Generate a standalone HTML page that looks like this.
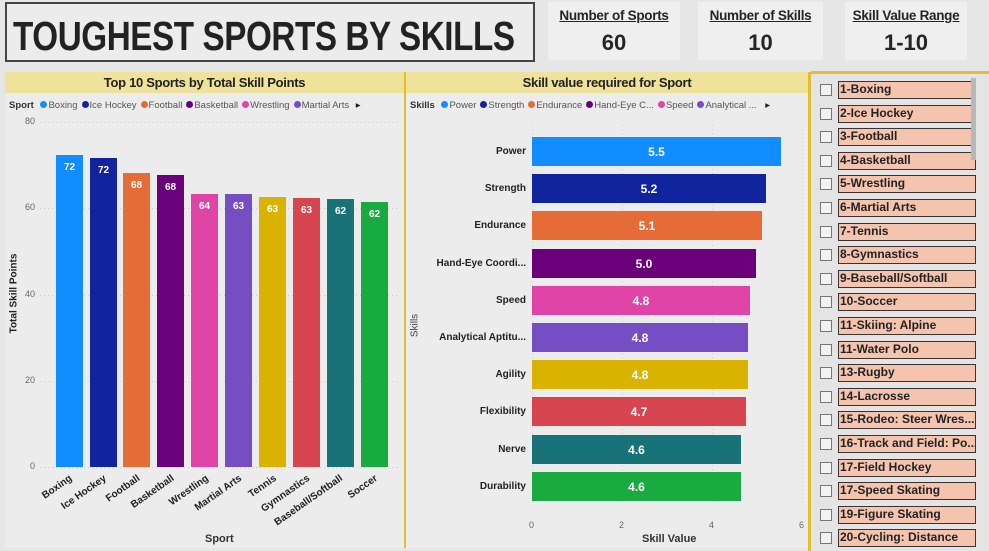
<!DOCTYPE html>
<html><head><meta charset="utf-8"><style>
*{margin:0;padding:0;box-sizing:border-box}
body{width:989px;height:551px;background:#e6e6e6;font-family:"Liberation Sans",sans-serif;position:relative;overflow:hidden}
.a{position:absolute}
.title{left:5px;top:2px;width:530px;height:60px;border:2px solid #444;background:#ececec;color:#222;overflow:hidden}
.title span{position:absolute;left:6px;top:9px;font-size:41px;font-weight:bold;white-space:nowrap;transform-origin:left top;transform:scaleX(0.81);letter-spacing:-0.5px}
.kpi{top:2px;height:58px;background:#efefef;text-align:center;color:#252525}
.kpi .h{font-size:13.5px;font-weight:bold;text-decoration:underline;margin-top:6px;letter-spacing:-0.3px}
.kpi .v{font-size:22px;font-weight:bold;margin-top:7px}
.hdr{top:72px;height:21px;background:#efe29a;font-size:13px;font-weight:bold;color:#222;text-align:center;line-height:21px;letter-spacing:-0.3px}
.panel{top:93px;height:455px;background:#ececec}
.leg{font-size:9.5px;color:#555;white-space:nowrap}
.leg b{color:#333}
.dot{display:inline-block;width:7px;height:7px;border-radius:50%;margin:0 1px 0 4px}
.bar{position:absolute}
.bl{position:absolute;color:#fff;font-weight:bold;font-size:10px;text-align:center}
.xl{position:absolute;font-size:10px;font-weight:bold;color:#222;transform-origin:right top;transform:rotate(-35deg);white-space:nowrap;text-align:right}
.tk{position:absolute;font-size:9px;color:#666}
.sl{position:absolute;left:838px;width:138px;height:18px;background:#f4c4ae;border:1.5px solid #3a3230;font-size:12px;font-weight:bold;color:#222;line-height:15px;padding-left:1px;white-space:nowrap;overflow:hidden}
.cb{position:absolute;left:820px;width:12px;height:12px;border:1px solid #777;background:#f2f2f2}
</style></head><body>
<div class="a title"><span>TOUGHEST SPORTS BY SKILLS</span></div>
<div class="a kpi" style="left:548px;width:132px"><div class="h">Number of Sports</div><div class="v">60</div></div>
<div class="a kpi" style="left:698px;width:125px"><div class="h">Number of Skills</div><div class="v">10</div></div>
<div class="a kpi" style="left:845px;width:122px"><div class="h">Skill Value Range</div><div class="v">1-10</div></div>

<div class="a hdr" style="left:5px;width:399px">Top 10 Sports by Total Skill Points</div>
<div class="a hdr" style="left:406px;width:402px">Skill value required for Sport</div>
<div class="a panel" style="left:5px;width:399px"></div>
<div class="a panel" style="left:406px;width:402px"></div>
<div class="a" style="left:404px;top:72px;width:2px;height:476px;background:#e0c030"></div>
<div class="a" style="left:808px;top:72px;width:3px;height:479px;background:#e0c030"></div>
<div class="a" style="left:811px;top:71px;width:178px;height:3px;background:#e0c030"></div>
<div class="a" style="left:811px;top:74px;width:176px;height:477px;background:#e4e4e4"></div>

<div class="a leg" style="left:9px;top:100px"><b>Sport</b> <span class="dot" style="background:#118dff"></span>Boxing<span class="dot" style="background:#12239e"></span>Ice Hockey<span class="dot" style="background:#e66c37"></span>Football<span class="dot" style="background:#6b007b"></span>Basketball<span class="dot" style="background:#e044a7"></span>Wrestling<span class="dot" style="background:#744ec2"></span>Martial Arts <span style="color:#222;margin-left:4px">▸</span></div>
<div class="a leg" style="left:410px;top:100px"><b>Skills</b> <span class="dot" style="background:#118dff"></span>Power<span class="dot" style="background:#12239e"></span>Strength<span class="dot" style="background:#e66c37"></span>Endurance<span class="dot" style="background:#6b007b"></span>Hand-Eye C...<span class="dot" style="background:#e044a7"></span>Speed<span class="dot" style="background:#744ec2"></span>Analytical ... <span style="color:#222;margin-left:6px">▸</span></div>

<svg class="a" style="left:0;top:0" width="404" height="551">
<g stroke="#ccc" stroke-dasharray="1,3">
<line x1="40" x2="400" y1="122.5" y2="122.5"/><line x1="40" x2="400" y1="208.5" y2="208.5"/><line x1="40" x2="400" y1="295.5" y2="295.5"/><line x1="40" x2="400" y1="381.5" y2="381.5"/><line x1="40" x2="400" y1="467.5" y2="467.5"/></g>
</svg>
<div class="tk" style="left:25px;top:116px">80</div>
<div class="tk" style="left:25px;top:202px">60</div>
<div class="tk" style="left:25px;top:289px">40</div>
<div class="tk" style="left:25px;top:375px">20</div>
<div class="tk" style="left:30px;top:461px">0</div>
<div class="a" style="left:-26px;top:288px;transform:rotate(-90deg);font-size:10px;font-weight:bold;color:#222;width:80px;text-align:center">Total Skill Points</div>
<div class="a" style="left:205px;top:533px;font-size:11px;font-weight:bold;color:#333">Sport</div>

<div class="bar" style="left:56px;top:155px;width:27px;height:312px;background:#118dff"></div><div class="bl" style="left:56px;top:162px;width:27px">72</div>
<div class="bar" style="left:90px;top:158px;width:27px;height:309px;background:#12239e"></div><div class="bl" style="left:90px;top:165px;width:27px">72</div>
<div class="bar" style="left:123px;top:173px;width:27px;height:294px;background:#e66c37"></div><div class="bl" style="left:123px;top:180px;width:27px">68</div>
<div class="bar" style="left:157px;top:175px;width:27px;height:292px;background:#6b007b"></div><div class="bl" style="left:157px;top:182px;width:27px">68</div>
<div class="bar" style="left:191px;top:194px;width:27px;height:273px;background:#e044a7"></div><div class="bl" style="left:191px;top:201px;width:27px">64</div>
<div class="bar" style="left:225px;top:194px;width:27px;height:273px;background:#744ec2"></div><div class="bl" style="left:225px;top:201px;width:27px">63</div>
<div class="bar" style="left:259px;top:197px;width:27px;height:270px;background:#d9b300"></div><div class="bl" style="left:259px;top:204px;width:27px">63</div>
<div class="bar" style="left:293px;top:198px;width:27px;height:269px;background:#d64550"></div><div class="bl" style="left:293px;top:205px;width:27px">63</div>
<div class="bar" style="left:327px;top:199px;width:27px;height:268px;background:#197278"></div><div class="bl" style="left:327px;top:206px;width:27px">62</div>
<div class="bar" style="left:361px;top:202px;width:27px;height:265px;background:#1aab40"></div><div class="bl" style="left:361px;top:209px;width:27px">62</div>

<div class="xl" style="right:921px;top:473px">Boxing</div>
<div class="xl" style="right:887px;top:473px">Ice Hockey</div>
<div class="xl" style="right:853px;top:473px">Football</div>
<div class="xl" style="right:819px;top:473px">Basketball</div>
<div class="xl" style="right:785px;top:473px">Wrestling</div>
<div class="xl" style="right:751px;top:473px">Martial Arts</div>
<div class="xl" style="right:717px;top:473px">Tennis</div>
<div class="xl" style="right:683px;top:473px">Gymnastics</div>
<div class="xl" style="right:650px;top:473px">Baseball/Softball</div>
<div class="xl" style="right:616px;top:473px">Soccer</div>

<svg class="a" style="left:0;top:0" width="808" height="551">
<g stroke="#ccc" stroke-dasharray="1,3">
<line x1="532.5" x2="532.5" y1="125" y2="505"/><line x1="622.5" x2="622.5" y1="125" y2="505"/><line x1="712.5" x2="712.5" y1="125" y2="505"/><line x1="802.5" x2="802.5" y1="125" y2="505"/></g>
</svg>
<div class="tk" style="left:529px;top:520px">0</div>
<div class="tk" style="left:619px;top:520px">2</div>
<div class="tk" style="left:709px;top:520px">4</div>
<div class="tk" style="left:799px;top:520px">6</div>
<div class="a" style="left:642px;top:533px;font-size:11px;font-weight:bold;color:#333">Skill Value</div>
<div class="a" style="left:395px;top:320px;transform:rotate(-90deg);font-size:10px;color:#444;width:40px;text-align:center">Skills</div>

<div id="c2"></div>
<script>
var d=[["Power",781,"#118dff","5.5"],["Strength",766,"#12239e","5.2"],["Endurance",762,"#e66c37","5.1"],["Hand-Eye Coordi...",756,"#6b007b","5.0"],["Speed",750,"#e044a7","4.8"],["Analytical Aptitu...",748,"#744ec2","4.8"],["Agility",748,"#d9b300","4.8"],["Flexibility",746,"#d64550","4.7"],["Nerve",741,"#197278","4.6"],["Durability",741,"#1aab40","4.6"]];
var h="";d.forEach(function(r,i){var y=137+i*37.2;var w=r[1]-532;
h+='<div class="bar" style="left:532px;top:'+y+'px;width:'+w+'px;height:29px;background:'+r[2]+'"></div>';
h+='<div class="bl" style="left:532px;top:'+(y+8)+'px;width:'+w+'px;font-size:12px">'+r[3]+'</div>';
h+='<div class="a" style="right:463px;top:'+(y+9)+'px;font-size:10px;font-weight:bold;color:#222;white-space:nowrap">'+r[0]+'</div>';});
var s=["1-Boxing","2-Ice Hockey","3-Football","4-Basketball","5-Wrestling","6-Martial Arts","7-Tennis","8-Gymnastics","9-Baseball/Softball","10-Soccer","11-Skiing: Alpine","11-Water Polo","13-Rugby","14-Lacrosse","15-Rodeo: Steer Wres...","16-Track and Field: Po...","17-Field Hockey","17-Speed Skating","19-Figure Skating","20-Cycling: Distance"];
s.forEach(function(t,i){var y=81+i*23.6;h+='<div class="cb" style="top:'+(y+3)+'px"></div><div class="sl" style="top:'+y+'px">'+t+'</div>';});
h+='<div class="a" style="left:971px;top:78px;width:5px;height:82px;background:#b8b8b8"></div>';
document.getElementById("c2").innerHTML=h;
</script>
</body></html>
